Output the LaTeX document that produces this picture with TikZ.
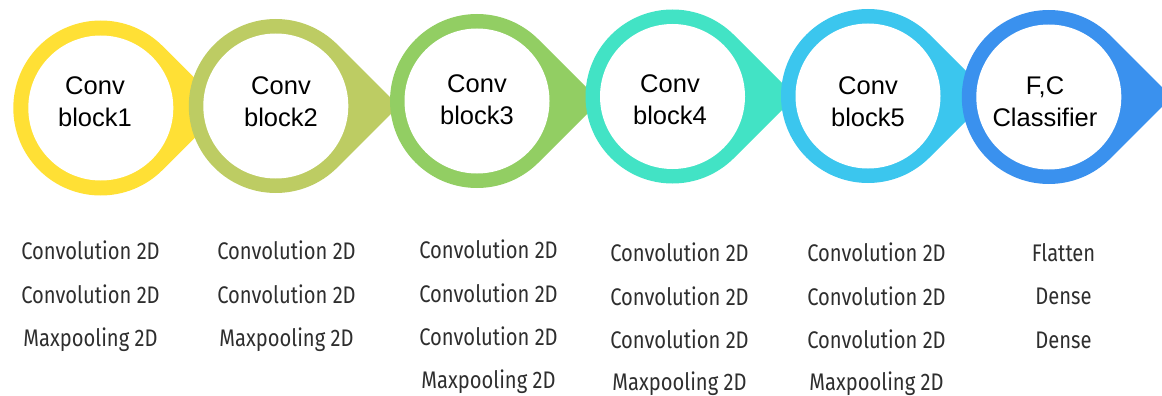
\documentclass[tikz,border=0pt]{standalone}
\usepackage{fontspec}
\setmainfont{Liberation Sans}
\newfontfamily\labfont{Fira Sans}[FakeStretch=0.84]
\definecolor{cYellow}{HTML}{FFE035}
\definecolor{cOlive}{HTML}{BDCC63}
\definecolor{cGreen}{HTML}{92CE63}
\definecolor{cTeal}{HTML}{42E3C5}
\definecolor{cCyan}{HTML}{3BC6EE}
\definecolor{cBlue}{HTML}{3A91EE}
\newcommand\mytear[4]{%
  \begin{scope}[shift={(#1,#2)}]
    \fill[#4] (45:#3) -- (0:{1.41421*#3}) -- (-45:#3)
      arc[start angle=-45,end angle=-315,radius=#3] -- cycle;
  \end{scope}}
\begin{document}
\begin{tikzpicture}[x=1pt,y=-1pt,
  hole/.style={circle,fill=white,inner sep=0pt,minimum size=145pt},
  title/.style={font=\fontsize{25.5}{32}\selectfont,align=center,inner sep=0pt,text=black},
  layer/.style={font=\labfont\fontsize{24}{28}\selectfont,inner sep=0pt,anchor=base,text=black!82}]
\useasboundingbox (0,0) rectangle (1162,396);
\begin{scope}
\clip (0,0) rectangle (1162,396);
% block 1
\mytear{100.8}{108}{87.5}{cYellow}
\node[hole] (w1) at (100.8,108) {};
\node[title] (t1) at (95,101.5) {Conv\\block1};
% block 2
\mytear{275.8}{106}{87}{cOlive}
\node[hole] (w2) at (275.8,106) {};
\node[title] (t2) at (281,101.7) {Conv\\block2};
% block 3
\mytear{477}{101}{87}{cGreen}
\node[hole] (w3) at (477,101) {};
\node[title] (t3) at (477,100) {Conv\\block3};
% block 4
\mytear{672.5}{96.5}{87}{cTeal}
\node[hole] (w4) at (672.5,96.5) {};
\node[title] (t4) at (670,100) {Conv\\block4};
% block 5
\mytear{868}{96}{87}{cCyan}
\node[hole] (w5) at (868,96) {};
\node[title] (t5) at (868,101.3) {Conv\\block5};
% block 6
\mytear{1048.8}{97}{87}{cBlue}
\node[hole] (w6) at (1048.8,97) {};
\node[title] (t6) at (1045,101.3) {F,C\\Classifier};
\end{scope}
% layer lists
\node[layer] (a1) at (90.5,259.5) {Convolution 2D};
\node[layer] (a2) at (90.5,303.5) {Convolution 2D};
\node[layer] (a3) at (90.5,346.5) {Maxpooling 2D};
\node[layer] (b1) at (286.5,259.5) {Convolution 2D};
\node[layer] (b2) at (286.5,303.5) {Convolution 2D};
\node[layer] (b3) at (286.5,346.5) {Maxpooling 2D};
\node[layer] (c1) at (488.5,258.5) {Convolution 2D};
\node[layer] (c2) at (488.5,302.5) {Convolution 2D};
\node[layer] (c3) at (488.5,345.5) {Convolution 2D};
\node[layer] (c4) at (488.5,388.5) {Maxpooling 2D};
\node[layer] (d1) at (679.5,261.5) {Convolution 2D};
\node[layer] (d2) at (679.5,305.5) {Convolution 2D};
\node[layer] (d3) at (679.5,348.5) {Convolution 2D};
\node[layer] (d4) at (679.5,390.5) {Maxpooling 2D};
\node[layer] (e1) at (876.5,261.5) {Convolution 2D};
\node[layer] (e2) at (876.5,305.5) {Convolution 2D};
\node[layer] (e3) at (876.5,348.5) {Convolution 2D};
\node[layer] (e4) at (876.5,390.5) {Maxpooling 2D};
\node[layer] (f1) at (1063.5,261.5) {Flatten};
\node[layer] (f2) at (1063.5,304.5) {Dense};
\node[layer] (f3) at (1063.5,348.5) {Dense};
\end{tikzpicture}
\end{document}
